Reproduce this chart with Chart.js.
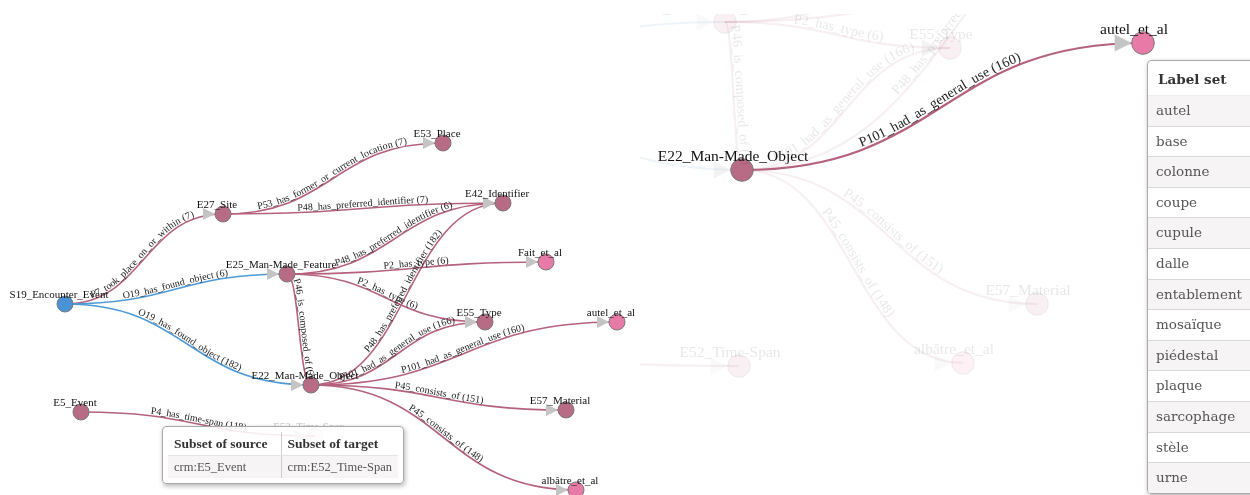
<!DOCTYPE html>
<html>
<head>
<meta charset="utf-8">
<script src="https://cdn.jsdelivr.net/npm/chart.js@4.4.0/dist/chart.umd.min.js"></script>
<style>
  body { margin: 0; width: 1250px; height: 495px; overflow: hidden; position: relative; background: #fff; }
  #overview { position: absolute; left: 0; top: 0; }
  #detail { position: absolute; left: 640px; top: 14px; }
  .box { position: absolute; background: rgba(255,255,255,0.88); border: 1px solid #a8a8a8; border-radius: 4px;
         box-shadow: 1px 2px 5px rgba(0,0,0,0.3); color: #555; }
  #tip { left: 162px; top: 426px; width: 240px; height: 56px; font-family: "Liberation Serif", serif; }
  #tip table { position: absolute; left: 5px; top: 5px; width: 230px; border-collapse: collapse; white-space: nowrap; }
  #tip th { font-size: 13.5px; font-weight: bold; color: #333; text-align: left; height: 23px; padding: 0 6px; border-bottom: 1px solid #e4e4e4; }
  #tip th:first-child { width: 106px; }
  #tip td { font-size: 12.5px; background: #f6f4f4; height: 22px; padding: 0 6px; }
  #tip th + th, #tip td + td { border-left: 1px solid #ccc; }
  #labels { left: 1147px; top: 60px; width: 130px; height: 432px; overflow: hidden; font-family: "DejaVu Serif", serif; }
  #labels div { height: 29.6px; line-height: 29.6px; padding-left: 8px; font-size: 13.5px; border-bottom: 1px solid #d8d8d8; }
  #labels div.head { height: 34px; line-height: 36px; font-weight: bold; color: #333; padding-left: 10px; border-bottom: 1px solid #eee; }
  #labels div.odd { background: #f6f4f4; }
</style>
</head>
<body>
<canvas id="overview" width="640" height="495"></canvas>
<canvas id="detail" width="610" height="481"></canvas>
<div id="tip" class="box"></div>
<div id="labels" class="box"></div>
<script>
// nodes
const nodeNames = ['S19_Encounter_Event', 'E27_Site', 'E53_Place', 'E42_Identifier', 'E25_Man-Made_Feature',
  'Fait_et_al', 'E55_Type', 'autel_et_al', 'E22_Man-Made_Object', 'E57_Material', 'albâtre_et_al', 'E5_Event', 'E52_Time-Span'];
const nodeKind = ['event', 'class', 'class', 'class', 'class', 'set', 'class', 'set', 'class', 'class', 'set', 'class', 'class'];

// layout of the overview graph (left)
const overviewX = [65, 223, 443, 503, 287, 546, 485, 617, 311, 566, 576, 81, 315];
const overviewY = [304, 214, 143, 203, 274, 262, 322, 322, 385, 410, 490, 412, 436];
const overviewFaded = ['E52_Time-Span'];

// layout of the zoomed graph (right)
const detailX = [360, 450, 760, 1180, 725, 1230, 950, 1143, 742, 1037, 963, 395, 739];
const detailY = [70, -60, -170, -130, 22, -60, 48, 43, 170, 304, 363, 355, 366];
const detailFocus = ['E22_Man-Made_Object', 'autel_et_al'];

// links
const linkSource = ['S19_Encounter_Event', 'S19_Encounter_Event', 'S19_Encounter_Event', 'E27_Site', 'E27_Site',
  'E25_Man-Made_Feature', 'E25_Man-Made_Feature', 'E25_Man-Made_Feature', 'E25_Man-Made_Feature',
  'E22_Man-Made_Object', 'E22_Man-Made_Object', 'E22_Man-Made_Object', 'E22_Man-Made_Object', 'E22_Man-Made_Object', 'E5_Event'];
const linkTarget = ['E27_Site', 'E25_Man-Made_Feature', 'E22_Man-Made_Object', 'E53_Place', 'E42_Identifier',
  'E42_Identifier', 'Fait_et_al', 'E55_Type', 'E22_Man-Made_Object',
  'E42_Identifier', 'E55_Type', 'autel_et_al', 'E57_Material', 'albâtre_et_al', 'E52_Time-Span'];
const linkProperty = ['P7_took_place_on_or_within', 'O19_has_found_object', 'O19_has_found_object',
  'P53_has_former_or_current_location', 'P48_has_preferred_identifier', 'P48_has_preferred_identifier',
  'P2_has_type', 'P2_has_type', 'P46_is_composed_of', 'P48_has_preferred_identifier',
  'P101_had_as_general_use', 'P101_had_as_general_use', 'P45_consists_of', 'P45_consists_of', 'P4_has_time-span'];
const linkCount = [7, 6, 182, 7, 7, 6, 6, 6, 6, 182, 166, 160, 151, 148, 118];

// side tables
const tipSource = ['crm:E5_Event'];
const tipTarget = ['crm:E52_Time-Span'];
const labelSet = ['autel', 'base', 'colonne', 'coupe', 'cupule', 'dalle', 'entablement', 'mosaïque',
  'piédestal', 'plaque', 'sarcophage', 'stèle', 'urne'];

const kindFill = { event: [74, 146, 214], class: [184, 107, 132], set: [232, 122, 168] };
// CRMsci properties (O..) in blue, CIDOC-CRM properties (P..) in mauve
const linkColor = prop => prop.startsWith('O') ? [77, 154, 217] : [181, 98, 124];
const rgba = (c, a) => `rgba(${c[0]},${c[1]},${c[2]},${a})`;

function bezier(a, b) {
  const mx = (a.x + b.x) / 2;
  const pts = [];
  let len = 0;
  for (let i = 0; i <= 80; i++) {
    const t = i / 80, u = 1 - t;
    const x = u*u*u*a.x + 3*u*u*t*mx + 3*u*t*t*mx + t*t*t*b.x;
    const y = u*u*u*a.y + 3*u*u*t*a.y + 3*u*t*t*b.y + t*t*t*b.y;
    if (i > 0) len += Math.hypot(x - pts[i-1].x, y - pts[i-1].y);
    pts.push({ x, y, s: len });
  }
  return { mx, pts, len };
}

function pointAt(path, s) {
  const p = path.pts;
  let i = 1;
  while (i < p.length - 1 && p[i].s < s) i++;
  const a = p[i-1], b = p[i];
  const f = (s - a.s) / ((b.s - a.s) || 1);
  return { x: a.x + (b.x - a.x) * f, y: a.y + (b.y - a.y) * f, ang: Math.atan2(b.y - a.y, b.x - a.x) };
}

function textOnPath(ctx, path, text, dy) {
  const w = ctx.measureText(text).width;
  const start = path.len / 2 - w / 2;
  for (let i = 0; i < text.length; i++) {
    const off = ctx.measureText(text.slice(0, i)).width;
    const cw = ctx.measureText(text[i]).width;
    const p = pointAt(path, start + off + cw / 2);
    ctx.save();
    ctx.translate(p.x, p.y);
    ctx.rotate(p.ang);
    ctx.fillText(text[i], -cw / 2, dy);
    ctx.restore();
  }
}

function graphPlugin(cfg) {
  const pos = (chart, name) => {
    const i = nodeNames.indexOf(name);
    return { x: chart.scales.x.getPixelForValue(cfg.xs[i]), y: chart.scales.y.getPixelForValue(cfg.ys[i]) };
  };
  return {
    id: 'graph',
    beforeDatasetsDraw(chart) {
      const ctx = chart.ctx;
      linkSource.forEach((src, k) => {
        const a = pos(chart, src), b = pos(chart, linkTarget[k]);
        const path = bezier(a, b);
        const alpha = cfg.linkAlpha(k);
        ctx.save();
        ctx.strokeStyle = rgba(linkColor(linkProperty[k]), alpha);
        ctx.lineWidth = cfg.lineWidth;
        ctx.beginPath();
        ctx.moveTo(a.x, a.y);
        ctx.bezierCurveTo(path.mx, a.y, path.mx, b.y, b.x, b.y);
        ctx.stroke();
        // arrow head at the target
        const tip = b.x - cfg.radius;
        ctx.fillStyle = rgba([196, 196, 196], alpha);
        ctx.beginPath();
        ctx.moveTo(tip, b.y);
        ctx.lineTo(tip - cfg.arrow, b.y - cfg.arrow / 2);
        ctx.lineTo(tip - cfg.arrow, b.y + cfg.arrow / 2);
        ctx.closePath();
        ctx.fill();
        ctx.restore();
      });
    },
    afterDatasetsDraw(chart) {
      const ctx = chart.ctx;
      ctx.save();
      ctx.font = cfg.linkFont;
      linkSource.forEach((src, k) => {
        const path = bezier(pos(chart, src), pos(chart, linkTarget[k]));
        ctx.fillStyle = rgba([34, 34, 34], cfg.linkAlpha(k));
        textOnPath(ctx, path, `${linkProperty[k]} (${linkCount[k]})`, cfg.labelDy);
      });
      ctx.font = cfg.nodeFont;
      ctx.textAlign = 'center';
      nodeNames.forEach((name, i) => {
        const p = pos(chart, name);
        ctx.fillStyle = rgba([17, 17, 17], cfg.nodeAlpha(i));
        ctx.fillText(name, p.x - cfg.labelShift, p.y - cfg.labelRise);
      });
      ctx.restore();
    }
  };
}

function makeGraph(id, xMin, xMax, yMin, cfg) {
  new Chart(document.getElementById(id), {
    type: 'scatter',
    data: {
      datasets: [{
        data: nodeNames.map((n, i) => ({ x: cfg.xs[i], y: cfg.ys[i] })),
        pointRadius: cfg.radius,
        pointBackgroundColor: nodeNames.map((n, i) => rgba(kindFill[nodeKind[i]], cfg.nodeAlpha(i))),
        pointBorderColor: nodeNames.map((n, i) => rgba([120, 120, 120], cfg.nodeAlpha(i))),
        pointBorderWidth: 1,
        clip: false
      }]
    },
    options: {
      responsive: false,
      animation: false,
      events: [],
      layout: { padding: 0, autoPadding: false },
      plugins: { legend: { display: false }, tooltip: { enabled: false } },
      scales: {
        x: { type: 'linear', min: xMin, max: xMax, display: false },
        y: { type: 'linear', min: yMin, max: 495, reverse: true, display: false }
      }
    },
    plugins: [graphPlugin(cfg)]
  });
}

const faded = 0.1;
makeGraph('overview', 0, 640, 0, {
  xs: overviewX, ys: overviewY, radius: 8, arrow: 12, lineWidth: 1.6,
  linkFont: '10px "Liberation Serif"', nodeFont: '11px "Liberation Serif"',
  labelDy: -2, labelShift: 6, labelRise: 6.5,
  nodeAlpha: i => overviewFaded.includes(nodeNames[i]) ? 0.25 : 1,
  linkAlpha: k => 1
});

makeGraph('detail', 640, 1250, 14, {
  xs: detailX, ys: detailY, radius: 11.3, arrow: 17, lineWidth: 2.2,
  linkFont: '14px "Liberation Serif"', nodeFont: '15.5px "Liberation Serif"',
  labelDy: -3, labelShift: 9, labelRise: 9,
  nodeAlpha: i => detailFocus.includes(nodeNames[i]) ? 1 : faded,
  linkAlpha: k => (detailFocus.includes(linkSource[k]) && detailFocus.includes(linkTarget[k])) ? 1 : faded
});

// tooltip table
let html = '<table><tr><th>Subset of source</th><th>Subset of target</th></tr>';
tipSource.forEach((s, i) => { html += `<tr><td>${s}</td><td>${tipTarget[i]}</td></tr>`; });
document.getElementById('tip').innerHTML = html + '</table>';

// label set table
document.getElementById('labels').innerHTML = '<div class="head">Label set</div>' +
  labelSet.map((l, i) => `<div class="${i % 2 === 0 ? 'odd' : ''}">${l}</div>`).join('');
</script>
</body>
</html>
